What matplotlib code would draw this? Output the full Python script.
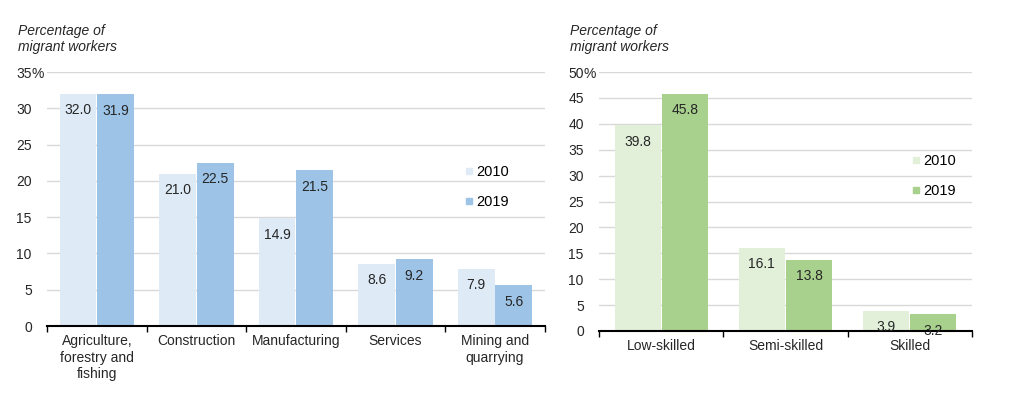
import matplotlib.pyplot as plt
from matplotlib.lines import Line2D
import numpy as np

plt.rcParams["font.family"] = ["Liberation Sans", "DejaVu Sans"]
plt.rcParams["font.size"] = 10

sectors = ['Agriculture,\nforestry and\nfishing', 'Construction', 'Manufacturing',
           'Services', 'Mining and\nquarrying']
sector_2010 = [32.0, 21.0, 14.9, 8.6, 7.9]
sector_2019 = [31.9, 22.5, 21.5, 9.2, 5.6]

skills = ['Low-skilled', 'Semi-skilled', 'Skilled']
skill_2010 = [39.8, 16.1, 3.9]
skill_2019 = [45.8, 13.8, 3.2]

years = ['2010', '2019']


def draw_panel(ax, cats, v1, v2, colors, ymax, step, legend_anchor):
    x = np.arange(len(cats))
    w = 0.37
    ax.bar(x - 0.19, v1, width=w, color=colors[0], zorder=2)
    ax.bar(x + 0.19, v2, width=w, color=colors[1], zorder=2)
    for xs, vals in ((x - 0.19, v1), (x + 0.19, v2)):
        for xi, v in zip(xs, vals):
            ax.annotate("{:.1f}".format(v), (xi, v), xytext=(0, -12),
                        textcoords="offset points", ha='center', va='center',
                        fontsize=10, color='#262626', zorder=3)
    ax.set_xlim(-0.5, len(cats) - 0.5)
    ax.set_ylim(0, ymax)
    ticks = np.arange(0, ymax + 1, step)
    ax.set_yticks(ticks)
    ax.set_yticklabels([str(t) for t in ticks])
    # percent sign hangs past the number on the top tick
    ax.annotate('%', (0, ymax), xycoords=('axes fraction', 'data'),
                xytext=(-11, 0), textcoords='offset points', ha='left',
                va='center_baseline', fontsize=10, color='#262626')
    ax.yaxis.grid(color='#d9d9d9', linewidth=1)
    ax.set_axisbelow(True)
    for s in ('top', 'right', 'left'):
        ax.spines[s].set_visible(False)
    ax.spines['bottom'].set_color('black')
    ax.spines['bottom'].set_linewidth(1.5)
    ax.tick_params(axis='y', length=0, labelsize=10, colors='#262626', pad=11)
    ax.set_xticks(x)
    ax.set_xticklabels(cats)
    ax.tick_params(axis='x', length=0, labelsize=10, colors='#262626', pad=6)
    ax.set_xticks(np.arange(-0.5, len(cats)), minor=True)
    ax.tick_params(axis='x', which='minor', length=4, width=1, color='black')
    handles = [Line2D([0], [0], marker='s', linestyle='', markersize=5,
                      color=c) for c in colors]
    ax.legend(handles, years, loc='upper left', bbox_to_anchor=legend_anchor,
              frameon=False, handletextpad=0.0, labelspacing=1.1,
              handlelength=1.0, fontsize=10.5)


fig = plt.figure(figsize=(10.24, 4), dpi=100)
ax1 = fig.add_axes([0.046, 0.185, 0.486, 0.635])
ax2 = fig.add_axes([0.585, 0.1725, 0.364, 0.6475])

draw_panel(ax1, sectors, sector_2010, sector_2019, ('#deeaf6', '#9dc3e6'),
           35, 5, (0.807, 0.685))
draw_panel(ax2, skills, skill_2010, skill_2019, ('#e2f0d9', '#a9d18e'),
           50, 5, (0.795, 0.735))

fig.text(0.018, 0.94, 'Percentage of\nmigrant workers', style='italic',
         fontsize=10, va='top', ha='left', color='#262626', linespacing=1.2)
fig.text(0.557, 0.94, 'Percentage of\nmigrant workers', style='italic',
         fontsize=10, va='top', ha='left', color='#262626', linespacing=1.2)

fig.savefig('out.png', dpi=100)
